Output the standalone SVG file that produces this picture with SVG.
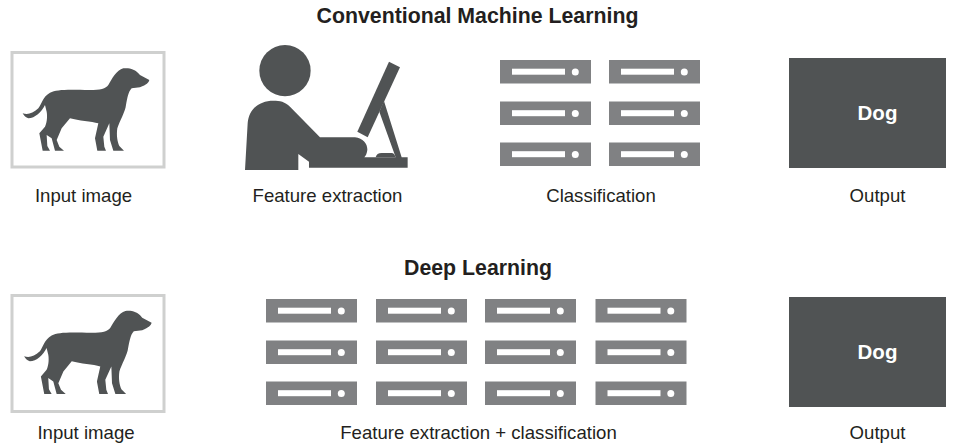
<svg xmlns="http://www.w3.org/2000/svg" width="961" height="445" viewBox="0 0 961 445">
<style>
text{font-family:"Liberation Sans",Arial,sans-serif;font-size:18.600px;fill:#231f20;text-anchor:middle}
.t{font-weight:700}
.frame{fill:#fff;stroke:#cfd0cf;stroke-width:3}
.dark{fill:#505354}
.sv{fill:#808183}
.w{fill:#fff}
.o{font-weight:700;font-size:20.500px;fill:#fff}
</style>
<defs>
<path id="dog" d="M68 220C82 224 98 222 115 205C124 194 128 170 150 158C170 148 200 148 270 150C300 150 318 146 325 135C335 118 350 90 370 85C385 83 405 85 420 105L448 120C446 128 440 134 420 142L395 145C385 155 382 175 378 195C376 215 358 245 352 265C349 285 352 305 358 318L372 332L340 332L330 300L328 250L310 290L313 320L318 332L292 332L285 295L295 250C275 245 235 242 210 235L185 265L170 300L178 320L192 332L165 332L155 295L140 285L142 318L150 332L128 332L118 280L135 260C142 245 142 225 140 215L135 195C125 215 105 235 85 235C78 233 72 228 68 220Z"/>
<g id="server"><rect width="91" height="23.500" class="sv"/><rect x="12" y="8.700" width="53" height="6" class="w"/><circle cx="75.300" cy="12" r="3.500" class="w"/></g>
</defs>
<text x="477.500" y="23" class="t" style="font-size:21.300px">Conventional Machine Learning</text>
<g id="input1"><rect x="12" y="52.500" width="152" height="114.500" class="frame"/><use href="#dog" transform="translate(0 40) scale(.3333)" class="dark"/><text x="83.500" y="201.500">Input image</text></g>
<g id="feature"><g class="dark" transform="translate(235 40) scale(.3333)"><circle cx="150" cy="92" r="77"/><path d="M30 390L38 250C42 205 75 182 115 182C135 182 150 185 165 200L255 292L360 292C385 295 398 312 397 330C396 340 392 348 388 352L482 352L433 215L447 183L500 352L518 352L518 383L222 383L222 365L190 342L190 390Z"/><path d="M462 65L495 82L398 292L367 275Z"/><path d="M422 352C424 343 430 339 440 339L470 339C476 339 480 345 482 352Z"/></g><text x="327.500" y="201.500">Feature extraction</text></g>
<g id="classification"><use href="#server" x="500" y="60"/><use href="#server" x="609" y="60"/><use href="#server" x="500" y="101.500"/><use href="#server" x="609" y="101.500"/><use href="#server" x="500" y="142.500"/><use href="#server" x="609" y="142.500"/><text x="601" y="201.500">Classification</text></g>
<g id="output1"><rect x="789" y="58" width="157" height="110" class="dark"/><text x="877.500" y="119.500" class="o">Dog</text><text x="877.500" y="201.500">Output</text></g>
<text x="478" y="275" class="t" style="font-size:21.300px">Deep Learning</text>
<g id="input2"><rect x="12" y="295.500" width="152" height="116" class="frame"/><use href="#dog" transform="translate(1.300 282.500) scale(.3355)" class="dark"/><text x="86" y="439">Input image</text></g>
<g id="deep"><use href="#server" x="266" y="299"/><use href="#server" x="376" y="299"/><use href="#server" x="485" y="299"/><use href="#server" x="595.500" y="299"/><use href="#server" x="266" y="340.500"/><use href="#server" x="376" y="340.500"/><use href="#server" x="485" y="340.500"/><use href="#server" x="595.500" y="340.500"/><use href="#server" x="266" y="381.500"/><use href="#server" x="376" y="381.500"/><use href="#server" x="485" y="381.500"/><use href="#server" x="595.500" y="381.500"/><text x="478.500" y="439">Feature extraction + classification</text></g>
<g id="output2"><rect x="789" y="297" width="157" height="110" class="dark"/><text x="877.500" y="359" class="o">Dog</text><text x="877.500" y="439">Output</text></g>
</svg>
